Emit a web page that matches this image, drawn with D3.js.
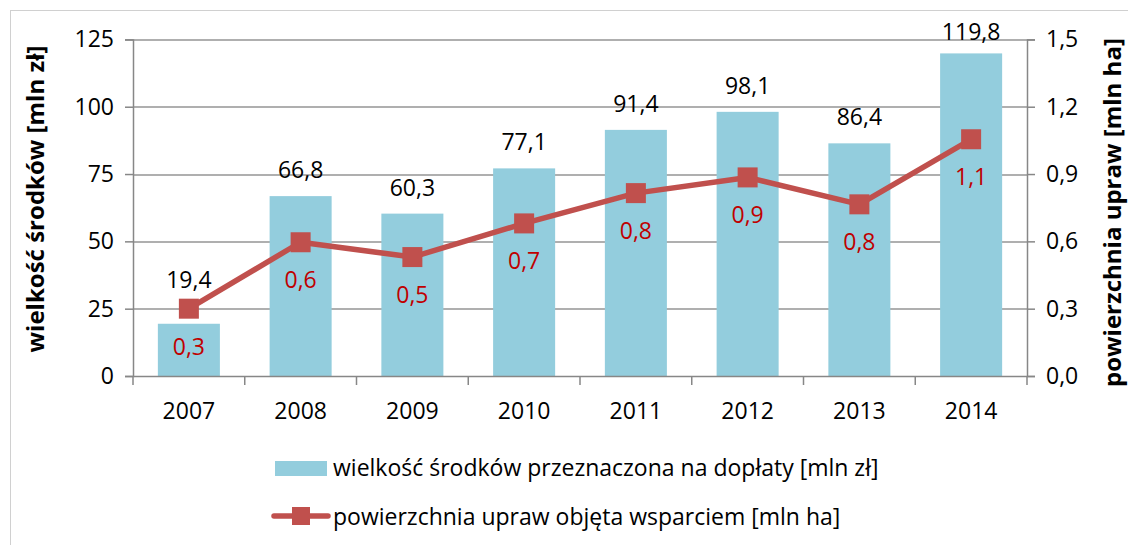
<!DOCTYPE html>
<html>
<head>
<meta charset="utf-8">
<script src="https://cdn.jsdelivr.net/npm/d3@7"></script>
<style>
  body { margin: 0; background: #fff; }
  svg { display: block; font-family: 'Open Sans', sans-serif; }
</style>
</head>
<body>
<div class="chart"></div>
<script>
const years = ['2007', '2008', '2009', '2010', '2011', '2012', '2013', '2014'];
const funds = [19.4, 66.8, 60.3, 77.1, 91.4, 98.1, 86.4, 119.8];
const area = [0.30, 0.596, 0.53, 0.68, 0.815, 0.885, 0.765, 1.055];
const leftTicks = [0, 25, 50, 75, 100, 125];
const rightTicks = [0, 0.3, 0.6, 0.9, 1.2, 1.5];
const legendLabels = [
  'wielkość środków przeznaczona na dopłaty [mln zł]',
  'powierzchnia upraw objęta wsparciem [mln ha]',
];

const barColor = '#93cddd';
const lineColor = '#c0504d';
const axisColor = '#878787';
const fontSize = '23px';

function fmt(v, digits) {
  return v.toFixed(digits).replace('.', ',');
}

function draw() {
  const width = 1128,
    height = 545;
  const margin = { left: 133, top: 39.4, right: 101, bottom: 169 };
  const plotW = width - margin.left - margin.right;
  const plotH = height - margin.top - margin.bottom;

  const svg = d3
    .select('.chart')
    .append('svg')
    .attr('width', width)
    .attr('height', height);

  // chart frame
  svg
    .append('rect')
    .attr('x', 10.5)
    .attr('y', 10.5)
    .attr('width', width)
    .attr('height', height)
    .attr('fill', 'none')
    .attr('stroke', '#d0d0d0');

  const g = svg
    .append('g')
    .attr('transform', 'translate(' + margin.left + ',' + margin.top + ')');

  const x = d3.scaleBand().domain(years).range([0, plotW]).paddingInner(0.445).paddingOuter(0.2225);
  const xb = d3.scaleBand().domain(years).range([0, plotW]);
  const y = d3.scaleLinear().domain([0, 125]).range([plotH, 0]);
  const y2 = d3.scaleLinear().domain([0, 1.5]).range([plotH, 0]);

  // gridlines
  g.append('g')
    .selectAll('line')
    .data(leftTicks.slice(1))
    .join('line')
    .attr('x1', 0)
    .attr('x2', plotW)
    .attr('y1', (d) => Math.round(y(d)) + 0.5)
    .attr('y2', (d) => Math.round(y(d)) + 0.5)
    .attr('stroke', '#959595')
    .attr('stroke-width', 1.5);

  // bars
  g.append('g')
    .selectAll('rect')
    .data(funds)
    .join('rect')
    .attr('x', (d, i) => x(years[i]))
    .attr('y', (d) => y(d))
    .attr('width', x.bandwidth())
    .attr('height', (d) => plotH - y(d))
    .attr('fill', barColor);

  // left axis
  const yAxis = g
    .append('g')
    .call(d3.axisLeft(y).tickValues(leftTicks).tickSize(8).tickPadding(11).tickFormat((d) => d));
  // right axis
  const y2Axis = g
    .append('g')
    .attr('transform', 'translate(' + plotW + ',0)')
    .call(d3.axisRight(y2).tickValues(rightTicks).tickSize(8).tickPadding(11).tickFormat((d) => fmt(d, 1)));
  // bottom axis
  const xAxis = g
    .append('g')
    .attr('transform', 'translate(0,' + plotH + ')')
    .call(d3.axisBottom(xb).tickSize(0).tickPadding(27));
  xAxis
    .append('g')
    .selectAll('line')
    .data(d3.range(years.length + 1))
    .join('line')
    .attr('x1', (i) => i * xb.step())
    .attr('x2', (i) => i * xb.step())
    .attr('y1', 0)
    .attr('y2', 9)
    .attr('stroke', axisColor)
    .attr('stroke-width', 1.5);

  [yAxis, y2Axis, xAxis].forEach((a) => {
    a.attr('font-family', null);
    a.select('.domain').attr('stroke', axisColor).attr('stroke-width', 1.5);
    a.selectAll('.tick line').attr('stroke', axisColor).attr('stroke-width', 1.5);
    a.selectAll('text').attr('fill', '#000').style('font-size', fontSize);
  });

  // line series
  const line = d3
    .line()
    .x((d, i) => xb(years[i]) + xb.bandwidth() / 2)
    .y((d) => y2(d));

  g.append('path')
    .datum(area)
    .attr('d', line)
    .attr('fill', 'none')
    .attr('stroke', lineColor)
    .attr('stroke-width', 5.5)
    .attr('stroke-linejoin', 'round');

  const ms = 20;
  g.append('g')
    .selectAll('rect')
    .data(area)
    .join('rect')
    .attr('x', (d, i) => xb(years[i]) + xb.bandwidth() / 2 - ms / 2)
    .attr('y', (d) => y2(d) - ms / 2)
    .attr('width', ms)
    .attr('height', ms)
    .attr('fill', lineColor);

  // bar value labels
  g.append('g')
    .selectAll('text')
    .data(funds)
    .join('text')
    .attr('x', (d, i) => xb(years[i]) + xb.bandwidth() / 2)
    .attr('y', (d, i) => Math.max(Math.min(y(d) - 18, y2(area[i]) - 21), 1))
    .attr('text-anchor', 'middle')
    .style('font-size', fontSize)
    .attr('fill', '#000')
    .text((d) => fmt(d, 1));

  // line value labels
  g.append('g')
    .selectAll('text')
    .data(area)
    .join('text')
    .attr('x', (d, i) => xb(years[i]) + xb.bandwidth() / 2)
    .attr('y', (d) => y2(d) + 46)
    .attr('text-anchor', 'middle')
    .style('font-size', fontSize)
    .attr('fill', '#c00000')
    .text((d) => fmt(d, 1));

  // axis titles
  svg
    .append('text')
    .attr('transform', 'translate(44,199) rotate(-90)')
    .attr('text-anchor', 'middle')
    .style('font-size', '24px')
    .style('font-weight', 'bold')
    .text('wielkość środków [mln zł]');

  svg
    .append('text')
    .attr('transform', 'translate(1121,387) rotate(-90)')
    .attr('text-anchor', 'start')
    .style('font-size', '24px')
    .style('font-weight', 'bold')
    .text('powierzchnia upraw [mln ha]');

  // legend
  const leg = svg.append('g');
  leg
    .append('rect')
    .attr('x', 275)
    .attr('y', 461)
    .attr('width', 52)
    .attr('height', 15)
    .attr('fill', barColor);
  leg
    .append('text')
    .attr('x', 333)
    .attr('y', 476)
    .style('font-size', fontSize)
    .text(legendLabels[0]);
  leg
    .append('line')
    .attr('x1', 274)
    .attr('x2', 328)
    .attr('y1', 516)
    .attr('y2', 516)
    .attr('stroke', lineColor)
    .attr('stroke-width', 5.5)
    .attr('stroke-linecap', 'round');
  leg
    .append('rect')
    .attr('x', 292)
    .attr('y', 507)
    .attr('width', 18)
    .attr('height', 18)
    .attr('fill', lineColor);
  leg
    .append('text')
    .attr('x', 333)
    .attr('y', 525)
    .style('font-size', fontSize)
    .text(legendLabels[1]);
}

draw();
</script>
</body>
</html>
